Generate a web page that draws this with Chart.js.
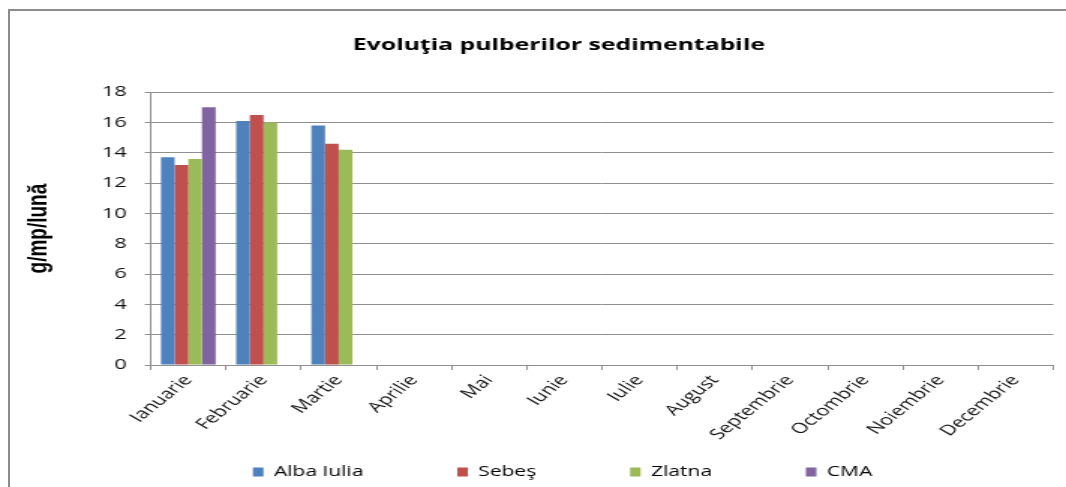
<!DOCTYPE html>
<html>
<head>
<meta charset="utf-8">
<script src="https://cdn.jsdelivr.net/npm/chart.js@4/dist/chart.umd.min.js"></script>
<style>
  html, body { margin: 0; padding: 0; background: #fff; }
  body { width: 1066px; height: 487px; overflow: hidden; position: relative; }
  #frame {
    position: absolute; left: 8px; top: 9px; width: 1070px; height: 490px;
    border-left: 2px solid #8c8c8c; border-top: 2px solid #8c8c8c;
  }
  /* the reference picture is stretched sideways, so the chart is too */
  #wrap {
    position: absolute; left: 0; top: 0; width: 711px; height: 487px;
    transform: scaleX(1.4993); transform-origin: 0 0;
  }
</style>
</head>
<body>
<div id="frame"></div>
<div id="wrap"><canvas id="chart" width="711" height="487"></canvas></div>
<script>
const months = ["Ianuarie", "Februarie", "Martie", "Aprilie", "Mai", "Iunie",
  "Iulie", "August", "Septembrie", "Octombrie", "Noiembrie", "Decembrie"];

const albaIulia = [13.7, 16.1, 15.8, null, null, null, null, null, null, null, null, null];
const sebes     = [13.2, 16.5, 14.6, null, null, null, null, null, null, null, null, null];
const zlatna    = [13.6, 16.0, 14.2, null, null, null, null, null, null, null, null, null];
const cma       = [17.0, null, null, null, null, null, null, null, null, null, null, null];

const yMin = 0;
const yMax = 18;
const yStep = 2;

const font = "'Open Sans', sans-serif";

// put title and legend where the reference has them
const placeBoxes = {
  id: "placeBoxes",
  afterLayout(chart) {
    const t = chart.titleBlock;
    t.left = 43;
    t.right = 702.5;

    const lg = chart.legend;
    const pad = lg.options.labels.padding;
    lg.left = 168.7 - pad;
    lg.top = 472 - pad - 7;
  }
};

function series(label, data, color) {
  return {
    label: label,
    data: data,
    backgroundColor: color,
    borderWidth: 0,
    categoryPercentage: 0.727,
    barPercentage: 1
  };
}

new Chart(document.getElementById("chart"), {
  type: "bar",
  data: {
    labels: months,
    datasets: [
      series("Alba Iulia", albaIulia, "#4F81BD"),
      series("Sebeş", sebes, "#C0504D"),
      series("Zlatna", zlatna, "#9BBB59"),
      series("CMA", cma, "#8064A2")
    ]
  },
  options: {
    responsive: false,
    animation: false,
    devicePixelRatio: 1,
    layout: {
      padding: { left: 14.6, right: 8.5, top: 0, bottom: 0 }
    },
    plugins: {
      title: {
        display: true,
        text: "Evoluţia pulberilor sedimentabile",
        color: "#000",
        font: { family: font, size: 16.5, weight: "bold" },
        padding: { top: 35.4, bottom: 37 }
      },
      legend: {
        position: "bottom",
        align: "start",
        maxHeight: 30,
        labels: {
          boxWidth: 7,
          boxHeight: 9,
          padding: 62.6,
          color: "#000",
          font: { family: font, size: 14 }
        }
      },
      tooltip: { enabled: false }
    },
    scales: {
      x: {
        afterFit: s => { s.height = 92; },
        grid: {
          offset: true,
          drawOnChartArea: false,
          drawTicks: true,
          tickLength: 5,
          color: "#8f8f8f"
        },
        border: { color: "#8f8f8f" },
        ticks: {
          autoSkip: false,
          minRotation: 50,
          maxRotation: 50,
          padding: 2,
          color: "#111",
          font: { family: font, size: 14.5 }
        }
      },
      y: {
        min: yMin,
        max: yMax,
        afterFit: s => { s.width = 85.9; },
        grid: { color: "#8f8f8f", tickLength: 4 },
        border: { color: "#8f8f8f" },
        ticks: {
          stepSize: yStep,
          padding: 12,
          color: "#111",
          font: { family: font, size: 14.5 }
        },
        title: {
          display: true,
          text: "g/mp/lună",
          color: "#000",
          padding: 0,
          font: { family: "'Liberation Sans', Arial, sans-serif", size: 19, weight: "bold" }
        }
      }
    }
  },
  plugins: [placeBoxes]
});
</script>
</body>
</html>
